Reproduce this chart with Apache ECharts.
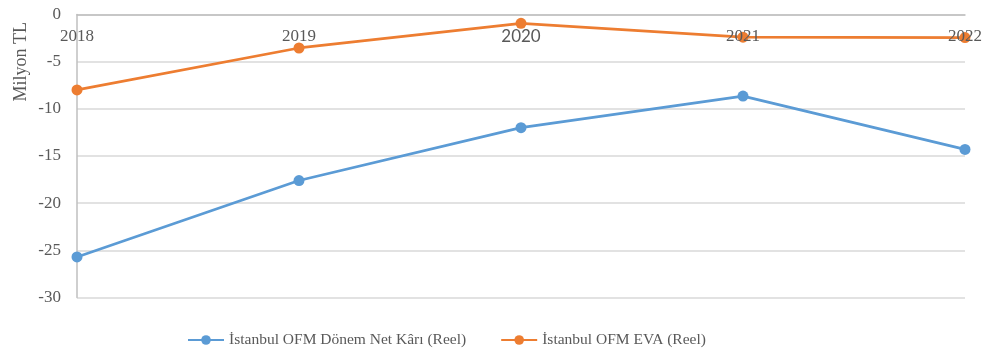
<!DOCTYPE html>
<html>
<head>
<meta charset="utf-8">
<script src="https://cdn.jsdelivr.net/npm/echarts@6/dist/echarts.min.js"></script>
<style>
  html, body { margin: 0; padding: 0; background: #fff; }
  #chart { width: 985px; height: 353px; }
</style>
</head>
<body>
<div id="chart"></div>
<script>
// Years on the category axis
const years = ['2018', '2019', '2020', '2021', '2022'];
// Net profit for the period, real terms (million TL)
const netProfit = [-25.7, -17.6, -12.0, -8.65, -14.3];
// Economic value added, real terms (million TL)
const eva = [-8.0, -3.55, -0.93, -2.4, -2.45];
// Value axis ticks
const yMin = -30, yMax = 0, yStep = 5;

const serif = '"Liberation Serif", "Times New Roman", serif';
const sans = 'Lato, "Open Sans", sans-serif';
const textGray = '#595959';

const chart = echarts.init(document.getElementById('chart'));
chart.setOption({
  animation: false,
  grid: { left: 77, right: 20, top: 14.5, bottom: 55.5, containLabel: false },
  legend: {
    top: 332,
    left: 187,
    padding: 0,
    itemWidth: 36,
    itemHeight: 12,
    itemGap: 34,
    textStyle: { fontFamily: serif, fontSize: 15.5, color: textGray },
    data: ['İstanbul OFM Dönem Net Kârı (Reel)', 'İstanbul OFM EVA (Reel)']
  },
  xAxis: {
    type: 'category',
    data: years,
    position: 'top',
    boundaryGap: false,
    z: 10,
    axisLine: { show: true, lineStyle: { color: '#bfbfbf', width: 1.5 } },
    axisTick: { show: false },
    splitLine: { show: false },
    axisLabel: {
      inside: true,
      margin: 14,
      color: textGray,
      fontFamily: serif,
      fontSize: 17,
      formatter: v => v === '2020' ? '{s|' + v + '}' : v,
      rich: { s: { fontFamily: sans, fontSize: 17, color: textGray } }
    }
  },
  yAxis: {
    type: 'value',
    min: yMin,
    max: yMax,
    interval: yStep,
    axisLine: { show: true, lineStyle: { color: '#bfbfbf', width: 1.5 } },
    axisTick: { show: false },
    splitLine: { show: true, lineStyle: { color: '#d9d9d9', width: 1.5 } },
    axisLabel: { color: textGray, fontFamily: serif, fontSize: 17, margin: 16 }
  },
  graphic: [{
    type: 'text',
    left: 12,
    top: 22,
    rotation: Math.PI / 2,
    style: { text: 'Milyon TL', fontFamily: serif, fontSize: 18, fill: textGray }
  }],
  series: [
    {
      name: 'İstanbul OFM Dönem Net Kârı (Reel)',
      type: 'line',
      data: netProfit,
      color: '#5B9BD5',
      symbol: 'circle',
      symbolSize: 11,
      lineStyle: { width: 2.75, color: '#5B9BD5' },
      itemStyle: { color: '#5B9BD5' }
    },
    {
      name: 'İstanbul OFM EVA (Reel)',
      type: 'line',
      data: eva,
      color: '#ED7D31',
      symbol: 'circle',
      symbolSize: 11,
      lineStyle: { width: 2.75, color: '#ED7D31' },
      itemStyle: { color: '#ED7D31' }
    }
  ]
});
</script>
</body>
</html>
